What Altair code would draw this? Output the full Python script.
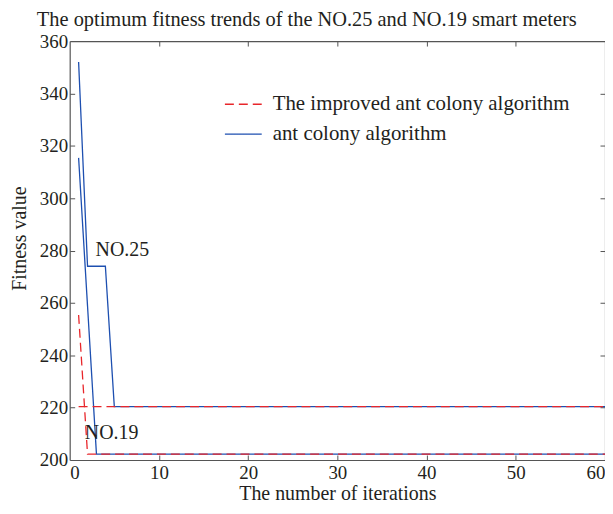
import altair as alt
import pandas as pd

iterations = list(range(1, 61))
# ant colony algorithm (blue, solid)
aca_no25 = [352.0, 274.0, 274.0, 274.0] + [220.4] * 56
aca_no19 = [315.4, 258.8] + [202.2] * 58
# improved ant colony algorithm (red, dashed)
iaca_no25 = [220.4] * 60
iaca_no19 = [255.4] + [202.2] * 59

algo_names = ["The improved ant colony algorithm", "ant colony algorithm"]
meters = ["NO.25", "NO.19"]

ann_text = ["NO.25", "NO.19"]
ann_x = [2.9, 1.7]
ann_y = [280.2, 210.2]

rows = []
for algo, series in [(algo_names[1], {"NO.25": aca_no25, "NO.19": aca_no19}),
                     (algo_names[0], {"NO.25": iaca_no25, "NO.19": iaca_no19})]:
    for m, vals in series.items():
        for it, v in zip(iterations, vals):
            rows.append({"algo": algo, "meter": m, "iter": it, "value": v})
df = pd.DataFrame(rows)
ann = pd.DataFrame({"text": ann_text, "x": ann_x, "y": ann_y})

W, H = 538, 421
FONT = "Liberation Serif"
TXT = "#231f20"
AX = "#555555"

xscale = alt.Scale(domain=[0, 60], nice=False)
yscale = alt.Scale(domain=[200, 360], nice=False)
color = alt.Color("algo:N", scale=alt.Scale(domain=algo_names, range=["#e8262b", "#1d4fb0"]),
                  legend=alt.Legend(title=None, orient="none", legendX=155, legendY=44,
                                    symbolType="stroke", symbolSize=1369, symbolStrokeWidth=1.4,
                                    labelFont=FONT, labelFontSize=21, labelColor=TXT,
                                    labelLimit=400, rowPadding=-10, symbolOffset=0, labelOffset=10))
dash = alt.StrokeDash("algo:N", scale=alt.Scale(domain=algo_names, range=[[9, 5], [1, 0]]), legend=None)

common_axis = dict(grid=False, labelFont=FONT, titleFont=FONT, labelFontSize=19, titleFontSize=20,
                   labelColor=TXT, titleColor=TXT, domainColor=AX, tickColor=AX, titleFontWeight="normal")

x_main = alt.X("iter:Q", scale=xscale, title="The number of iterations",
               axis=alt.Axis(orient="bottom", values=[0, 10, 20, 30, 40, 50, 60], tickSize=0,
                             labelPadding=4, titlePadding=1, domainWidth=1.2, **common_axis))
y_main = alt.Y("value:Q", scale=yscale, title="Fitness value",
               axis=alt.Axis(orient="left", values=list(range(200, 361, 20)), tickSize=0,
                             labelPadding=2, titlePadding=10, titleY=198, domainWidth=1.2, **common_axis))

blue = alt.Chart(df).transform_filter(alt.datum.algo == algo_names[1]).mark_line(strokeWidth=1.3).encode(
    x=x_main, y=y_main, color=color, strokeDash=dash, detail="meter:N")

x_in_bottom = alt.X("iter:Q", scale=xscale, title=None,
                    axis=alt.Axis(orient="top", offset=-H, values=[10, 20, 30, 40, 50], tickSize=5,
                                  labels=False, domain=False, grid=False, tickColor=AX))
y_in_left = alt.Y("value:Q", scale=yscale, title=None,
                  axis=alt.Axis(orient="right", offset=-W, values=list(range(220, 360, 20)), tickSize=5,
                                labels=False, domain=False, grid=False, tickColor=AX))
red = alt.Chart(df).transform_filter(alt.datum.algo == algo_names[0]).mark_line(strokeWidth=1.3).encode(
    x=x_in_bottom, y=y_in_left, color=color, strokeDash=dash, detail="meter:N")

x_top = alt.X("x:Q", scale=xscale, title=None,
              axis=alt.Axis(orient="bottom", offset=-H, values=[10, 20, 30, 40, 50], tickSize=5,
                            labels=False, domain=True, domainColor=AX, domainWidth=1.2, grid=False, tickColor=AX))
y_right = alt.Y("y:Q", scale=yscale, title=None,
                axis=alt.Axis(orient="left", offset=-W, values=list(range(220, 360, 20)), tickSize=5,
                              labels=False, domain=True, domainColor=AX, domainWidth=1.2, grid=False, tickColor=AX))
labels = alt.Chart(ann).mark_text(align="left", baseline="middle", font=FONT, fontSize=20, color=TXT).encode(
    x=x_top, y=y_right, text="text:N")

chart = alt.layer(blue, red, labels).resolve_axis(x="independent", y="independent").properties(
    width=W, height=H,
    title=alt.TitleParams("The optimum fitness trends of the NO.25 and NO.19 smart meters",
                          font=FONT, fontSize=20.5, fontWeight="normal", color=TXT,
                          anchor="start", frame="group", dx=-33, offset=2),
    autosize=alt.AutoSizeParams(type="none"),
    padding={"left": 62, "top": 32, "right": 0, "bottom": 44},
).configure_view(stroke=None)

chart.save("out.html", embed_options={"renderer": "svg", "actions": False})
